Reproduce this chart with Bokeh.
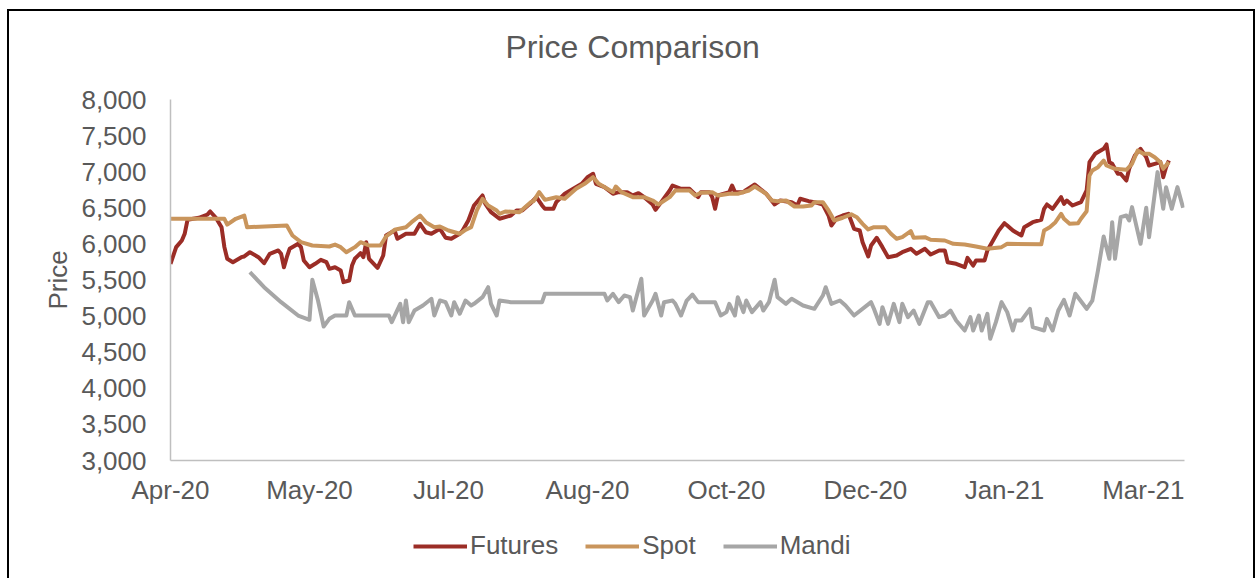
import pandas as pd
from bokeh.plotting import figure
from bokeh.layouts import column, row
from bokeh.models import (FixedTicker, DatetimeTickFormatter, NumeralTickFormatter,
                          Range1d, Legend, LegendItem, Spacer)
from bokeh.embed import file_html
from bokeh.resources import INLINE

# ---------------- data ----------------
start_date = "2020-04-01"
axis_end_day = 357.5
tick_days = [0, 49, 98, 147, 196, 245, 294, 343]
y_ticks = [3000, 3500, 4000, 4500, 5000, 5500, 6000, 6500, 7000, 7500, 8000]

futures_day = [0, 2, 4, 5, 6, 10, 13, 14, 16, 18, 19, 20, 22, 25, 26, 28, 31, 33, 35, 38, 39, 40, 41, 42,
               45, 46, 47, 49, 51, 53, 55, 56, 58, 60, 61, 63, 64, 65, 67, 68, 69, 70, 73, 75, 76, 79, 80,
               83, 86, 88, 90, 92, 95, 97, 99, 102, 103, 105, 107, 110, 111, 113, 116, 120, 122, 124, 126,
               127, 129, 131, 132, 135, 136, 139, 142, 145, 147, 149, 150, 153, 156, 158, 161, 163, 165,
               167, 170, 171, 173, 176, 177, 180, 183, 186, 187, 190, 191, 192, 193, 197, 198, 199, 202,
               203, 206, 210, 211, 213, 215, 219, 221, 222, 225, 227, 230, 232, 233, 235, 237, 239, 241,
               243, 244, 246, 247, 249, 251, 253, 256, 258, 261, 263, 266, 268, 271, 273, 274, 277, 280,
               281, 283, 284, 287, 288, 290, 292, 294, 295, 297, 298, 300, 301, 304, 307, 308, 309, 311,
               314, 315, 316, 318, 321, 323, 324, 326, 329, 330, 331, 332, 334, 335, 337, 338, 340, 342,
               344, 345, 347, 349, 350, 351, 352]
futures_price = [5724, 5955, 6047, 6140, 6334, 6362, 6407, 6449, 6362, 6231, 5955, 5794, 5747, 5816, 5826,
                 5885, 5816, 5733, 5863, 5909, 5863, 5677, 5816, 5932, 6001, 5955, 5770, 5677, 5724, 5779,
                 5747, 5655, 5677, 5632, 5470, 5493, 5700, 5794, 5872, 5816, 6024, 5794, 5669, 5839, 6116,
                 6186, 6071, 6140, 6140, 6278, 6162, 6140, 6209, 6085, 6071, 6140, 6186, 6324, 6532, 6671,
                 6555, 6440, 6348, 6393, 6463, 6463, 6532, 6564, 6647, 6532, 6486, 6486, 6578, 6694, 6763,
                 6832, 6924, 6971, 6832, 6786, 6694, 6717, 6717, 6671, 6703, 6647, 6546, 6472, 6578, 6740,
                 6809, 6763, 6763, 6647, 6717, 6717, 6647, 6486, 6671, 6717, 6809, 6717, 6717, 6749, 6823,
                 6694, 6647, 6546, 6601, 6578, 6532, 6625, 6592, 6578, 6546, 6393, 6255, 6362, 6393, 6417,
                 6209, 6186, 6024, 5826, 5978, 6085, 5955, 5816, 5839, 5885, 5932, 5863, 5932, 5853, 5909,
                 5909, 5747, 5724, 5677, 5807, 5700, 5770, 5770, 5909, 6047, 6186, 6287, 6255, 6186, 6162,
                 6116, 6231, 6301, 6334, 6486, 6546, 6486, 6647, 6555, 6601, 6532, 6578, 6740, 7132, 7248,
                 7317, 7377, 7132, 7109, 6971, 6971, 6878, 7040, 7224, 7317, 7201, 7086, 7109, 7132, 6924,
                 7063, 7155]

spot_day = [0, 19, 20, 23, 26, 27, 41, 43, 46, 50, 56, 58, 60, 62, 65, 67, 70, 74, 76, 79, 83, 85, 88, 90,
            93, 95, 98, 102, 104, 106, 108, 110, 112, 115, 116, 118, 123, 127, 128, 130, 132, 136, 139, 143,
            146, 149, 151, 154, 156, 157, 159, 163, 167, 170, 172, 176, 178, 183, 185, 187, 191, 193, 197,
            200, 202, 204, 206, 210, 212, 214, 217, 220, 223, 226, 227, 230, 232, 234, 237, 240, 242, 244,
            246, 248, 252, 254, 256, 258, 261, 262, 266, 268, 273, 276, 280, 284, 288, 293, 295, 307, 308,
            310, 312, 314, 315, 317, 320, 321, 323, 324, 325, 327, 329, 330, 333, 337, 339, 341, 343, 345,
            347, 349, 350, 352]
spot_price = [6348, 6348, 6268, 6348, 6393, 6231, 6255, 6116, 6024, 5978, 5964, 5990, 5955, 5885, 5955, 6024,
              5978, 5978, 6102, 6195, 6231, 6301, 6393, 6301, 6231, 6241, 6186, 6140, 6195, 6231, 6463, 6625,
              6532, 6463, 6417, 6449, 6440, 6578, 6592, 6717, 6610, 6647, 6625, 6763, 6832, 6924, 6832, 6763,
              6717, 6795, 6717, 6647, 6647, 6601, 6546, 6647, 6740, 6740, 6671, 6708, 6717, 6671, 6694, 6694,
              6717, 6740, 6795, 6694, 6601, 6592, 6601, 6518, 6518, 6532, 6578, 6578, 6463, 6324, 6362, 6410,
              6370, 6278, 6200, 6231, 6231, 6140, 6071, 6093, 6177, 6085, 6093, 6057, 6047, 6001, 5992, 5964,
              5932, 5955, 6001, 5995, 6186, 6231, 6301, 6417, 6348, 6278, 6287, 6348, 6453, 6948, 7017, 7063,
              7155, 7086, 7040, 7026, 7109, 7294, 7248, 7248, 7201, 7132, 7040, 7132]

mandi_day = [28, 33, 39, 45, 49, 50, 52, 54, 56, 58, 62, 63, 65, 77, 78, 81, 82, 83, 84, 86, 89, 92, 93, 95,
             97, 99, 100, 102, 104, 106, 107, 110, 112, 113, 115, 116, 120, 131, 132, 153, 154, 156, 158, 160,
             162, 163, 166, 167, 170, 171, 173, 174, 177, 178, 180, 182, 184, 186, 192, 194, 196, 197, 199,
             200, 202, 203, 205, 208, 209, 211, 213, 214, 217, 219, 223, 227, 230, 231, 233, 236, 238, 241,
             247, 248, 250, 251, 253, 255, 257, 258, 260, 262, 264, 267, 268, 271, 273, 275, 277, 280, 282,
             283, 285, 286, 288, 289, 291, 293, 295, 297, 298, 300, 303, 304, 308, 309, 311, 313, 315, 317,
             319, 323, 325, 327, 329, 331, 332, 333, 335, 337, 338, 339, 342, 344, 345, 348, 350, 351, 353,
             355, 357]
mandi_price = [5608, 5400, 5193, 5008, 4949, 5503, 5216, 4856, 4962, 5008, 5008, 5193, 5008, 5008, 4916, 5170,
               4916, 5216, 4916, 5077, 5147, 5240, 5008, 5216, 5193, 5008, 5193, 5032, 5216, 5147, 5170, 5262,
               5400, 5170, 5008, 5216, 5193, 5193, 5309, 5309, 5216, 5309, 5193, 5285, 5262, 5077, 5517, 5008,
               5216, 5309, 5008, 5193, 5216, 5170, 5008, 5216, 5299, 5193, 5193, 5008, 5055, 5170, 5008, 5262,
               5055, 5216, 5055, 5193, 5077, 5193, 5503, 5262, 5170, 5240, 5147, 5101, 5285, 5400, 5170, 5216,
               5147, 5008, 5193, 5101, 4893, 5124, 4893, 5170, 4916, 5170, 4985, 5077, 4893, 5193, 5193, 4985,
               5008, 5077, 4939, 4800, 4985, 4800, 5008, 4800, 5032, 4685, 4916, 5193, 5055, 4800, 4939, 4939,
               5101, 4847, 4800, 4962, 4800, 5077, 5225, 5008, 5309, 5101, 5216, 5632, 6102, 5794, 6301, 5794,
               6370, 6393, 6324, 6509, 6001, 6500, 6093, 6994, 6486, 6786, 6486, 6786, 6500]

series_names = ["Futures", "Spot", "Mandi"]
series_colors = ["#9B2D26", "#C9955C", "#A6A6A6"]
chart_title = "Price Comparison"

# ---------------- build ----------------
t0 = pd.Timestamp(start_date)


def to_dates(days):
    return [t0 + pd.Timedelta(days=d) for d in days]


def to_ms(day):
    return (t0 + pd.Timedelta(days=day)).timestamp() * 1000


text_color = "#595959"
font = "Liberation Sans"
line_w = 4
W = 1244


def blank_strip(height, title=None):
    f = figure(width=W, height=height, output_backend="svg", toolbar_location=None,
               x_range=Range1d(0, 1), y_range=Range1d(0, 1), title=title,
               x_axis_location=None, y_axis_location=None,
               min_border_left=0, min_border_right=0, min_border_top=0, min_border_bottom=0)
    f.outline_line_color = None
    f.xgrid.visible = False
    f.ygrid.visible = False
    f.border_fill_color = "white"
    return f


# title strip
tf = blank_strip(71, chart_title)
tf.title.align = "left"
tf.title.offset = 335
tf.title.standoff = 31
tf.title.text_font = font
tf.title.text_font_size = "32px"
tf.title.text_font_style = "normal"
tf.title.text_color = text_color

# main chart
p = figure(width=W, height=438, x_axis_type="datetime", title=None,
           output_backend="svg", toolbar_location=None,
           x_range=Range1d(t0, t0 + pd.Timedelta(days=axis_end_day)),
           y_range=Range1d(3000, 8000),
           min_border_left=161, min_border_right=69, min_border_top=17, min_border_bottom=60)

p.outline_line_color = None
p.xgrid.visible = False
p.ygrid.visible = False
p.background_fill_color = "white"
p.border_fill_color = "white"

for days, prices, color in [(futures_day, futures_price, series_colors[0]),
                            (spot_day, spot_price, series_colors[1]),
                            (mandi_day, mandi_price, series_colors[2])]:
    p.line(to_dates(days), prices, line_color=color, line_width=line_w, line_join="round")

# y axis
p.yaxis.ticker = FixedTicker(ticks=y_ticks)
p.yaxis.formatter = NumeralTickFormatter(format="0,0")
p.yaxis.axis_label = "Price"
p.yaxis.axis_label_text_font = font
p.yaxis.axis_label_text_font_size = "26px"
p.yaxis.axis_label_text_font_style = "normal"
p.yaxis.axis_label_text_color = text_color
p.yaxis.axis_label_standoff = 5
p.yaxis.major_label_standoff = 24

# x axis
p.xaxis.ticker = FixedTicker(ticks=[to_ms(d) for d in tick_days])
fmt = "%b-%y"
p.xaxis.formatter = DatetimeTickFormatter(milliseconds=fmt, seconds=fmt, minsec=fmt, minutes=fmt,
                                          hourmin=fmt, hours=fmt, days=fmt, months=fmt, years=fmt)
p.xaxis.major_label_standoff = 14

for ax in (p.xaxis, p.yaxis):
    ax.major_label_text_font = font
    ax.major_label_text_font_size = "26px"
    ax.major_label_text_color = text_color
    ax.axis_line_color = "#BFBFBF"
    ax.axis_line_width = 1.5
    ax.major_tick_line_color = None
    ax.minor_tick_line_color = None
    ax.major_tick_out = 0
    ax.major_tick_in = 0

# legend strip under the chart (same colours/line width as the series)
lg = blank_strip(58)
nan = float("nan")
keys = [lg.line([nan], [nan], line_color=c, line_width=line_w) for c in series_colors]
legend = Legend(items=[LegendItem(label=n, renderers=[k]) for n, k in zip(series_names, keys)],
                orientation="horizontal", location=(243, 17),
                glyph_width=54, glyph_height=30, label_height=30, label_standoff=3, spacing=27,
                padding=0, margin=0, border_line_color=None, background_fill_alpha=0,
                label_text_font=font, label_text_font_size="26px", label_text_color=text_color)
lg.add_layout(legend, "center")

chart = column(tf, p, lg, spacing=0,
               styles={"border": "2px solid #000000", "border-bottom": "none",
                       "background-color": "white"})
page = column(Spacer(height=9), row(Spacer(width=7), chart, spacing=0), spacing=0)

open("out.html", "w").write(file_html(page, INLINE))
